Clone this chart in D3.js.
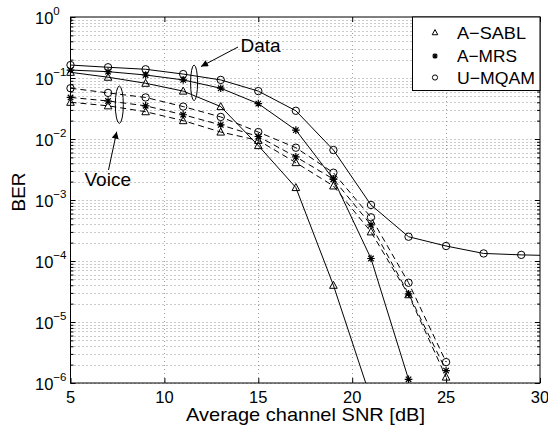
<!DOCTYPE html>
<html>
<head>
<meta charset="utf-8">
<script src="https://cdn.jsdelivr.net/npm/d3@7"></script>
<style>
  html, body { margin: 0; padding: 0; background: #fff; }
  svg { display: block; font-family: "Liberation Sans", Arial, Helvetica, sans-serif; }
</style>
</head>
<body>
<svg id="chart" width="548" height="432"></svg>
<script>
// ---------------- data ----------------
const seriesNames = ["A\u2212SABL", "A\u2212MRS", "U\u2212MQAM"];
const xTicks = [5, 10, 15, 20, 25, 30];
const yDecades = [-6, -5, -4, -3, -2, -1, 0];

const snrDataUMQAM = [5, 7, 9, 11, 13, 15, 17, 19, 21, 23, 25, 27, 29, 30];
const berDataUMQAM = [0.163, 0.150, 0.139, 0.116, 0.093, 0.061, 0.029, 0.0066, 8.3e-4, 2.5e-4, 1.76e-4, 1.33e-4, 1.26e-4, 1.24e-4];

const snrDataAMRS = [5, 7, 9, 11, 13, 15, 17, 19, 21, 23];
const berDataAMRS = [0.135, 0.127, 0.112, 0.093, 0.068, 0.038, 0.014, 0.0022, 1.1e-4, 1.15e-6];

const snrDataASABL = [5, 7, 9, 11, 13, 15, 17, 19, 21];
const berDataASABL = [0.124, 0.103, 0.082, 0.061, 0.034, 0.0078, 0.0016, 4.0e-5, 5.5e-7];

const snrVoice = [5, 7, 9, 11, 13, 15, 17, 19, 21, 23, 25];
const berVoiceUMQAM = [0.068, 0.057, 0.048, 0.034, 0.023, 0.013, 0.0072, 0.0028, 5.2e-4, 4.4e-5, 2.2e-6];
const berVoiceAMRS  = [0.048, 0.042, 0.035, 0.025, 0.017, 0.011, 0.0051, 0.0022, 3.9e-4, 2.9e-5, 1.6e-6];
const berVoiceASABL = [0.040, 0.035, 0.028, 0.020, 0.013, 0.0095, 0.0041, 0.0017, 3.0e-4, 2.8e-5, 1.25e-6];

// ---------------- layout ----------------
const L = 70.5, R = 540, T = 17, B = 383;
const svg = d3.select("#chart");
const x = d3.scaleLinear().domain([5, 30]).range([L, R]);
const y = d3.scaleLog().domain([1e-6, 1]).range([B, T]);

svg.append("defs").append("clipPath").attr("id", "clip")
  .append("rect").attr("x", L).attr("y", T).attr("width", R - L).attr("height", B - T);
const arrowDef = svg.select("defs").append("marker")
  .attr("id", "arrow").attr("viewBox", "0 0 10 10").attr("refX", 10).attr("refY", 5)
  .attr("markerWidth", 9).attr("markerHeight", 7).attr("markerUnits", "userSpaceOnUse")
  .attr("orient", "auto");
arrowDef.append("path").attr("d", "M0,0 L10,5 L0,10 z").attr("fill", "#000");

// grid
const minorVals = [];
for (let k = -6; k < 0; k++) for (let m = 1; m <= 9; m++) minorVals.push(m * Math.pow(10, k));
const grid = svg.append("g");
grid.selectAll("line.h").data(minorVals).join("line")
  .attr("x1", L).attr("x2", R)
  .attr("y1", d => Math.round(y(d)) + 0.5).attr("y2", d => Math.round(y(d)) + 0.5)
  .attr("stroke", "#777").attr("stroke-width", 0.8).attr("stroke-dasharray", "1,3");
grid.selectAll("line.v").data(xTicks.slice(1, -1)).join("line")
  .attr("x1", d => Math.round(x(d)) + 0.5).attr("x2", d => Math.round(x(d)) + 0.5)
  .attr("y1", T).attr("y2", B)
  .attr("stroke", "#888").attr("stroke-width", 0.8).attr("stroke-dasharray", "1,3");

// axes (ticks inside)
const ax = svg.append("g");
ax.append("g").attr("transform", `translate(0,${B})`)
  .call(d3.axisBottom(x).tickValues(xTicks).tickSize(-5).tickFormat(""))
  .call(g => g.select(".domain").remove());
ax.append("g").attr("transform", `translate(0,${T})`)
  .call(d3.axisTop(x).tickValues(xTicks).tickSize(-5).tickFormat(""))
  .call(g => g.select(".domain").remove());
const decVals = yDecades.map(e => Math.pow(10, e));
const minorOnly = minorVals.filter(v => Math.abs(Math.log10(v) % 1) > 1e-9);
ax.append("g").attr("transform", `translate(${L},0)`)
  .call(d3.axisLeft(y).tickValues(decVals).tickSize(-5).tickFormat(""))
  .call(g => g.select(".domain").remove());
ax.append("g").attr("transform", `translate(${R},0)`)
  .call(d3.axisRight(y).tickValues(decVals).tickSize(-5).tickFormat(""))
  .call(g => g.select(".domain").remove());
ax.append("g").attr("transform", `translate(${L},0)`)
  .call(d3.axisLeft(y).tickValues(minorOnly).tickSize(-3).tickFormat(""))
  .call(g => g.select(".domain").remove());
ax.append("g").attr("transform", `translate(${R},0)`)
  .call(d3.axisRight(y).tickValues(minorOnly).tickSize(-3).tickFormat(""))
  .call(g => g.select(".domain").remove());
ax.selectAll(".tick line").attr("stroke", "#000");

// x tick labels
svg.append("g").selectAll("text").data(xTicks).join("text")
  .attr("x", d => x(d)).attr("y", 402.5).attr("text-anchor", "middle")
  .attr("font-size", 16.5).text(d => d);

// y tick labels
const yl = svg.append("g").selectAll("text").data(yDecades).join("text")
  .attr("x", 35).attr("y", d => y(Math.pow(10, d)) + 7).attr("font-size", 16.5);
yl.append("tspan").text("10");
yl.append("tspan").attr("dy", -9.5).attr("font-size", 11.5)
  .text(d => d === 0 ? "0" : "\u2212" + Math.abs(d));

// axis titles
svg.append("text").attr("x", 186).attr("y", 421)
  .attr("font-size", 19).attr("textLength", 239).attr("lengthAdjust", "spacingAndGlyphs")
  .text("Average channel SNR [dB]");
svg.append("text").attr("transform", "translate(25,192) rotate(-90)").attr("text-anchor", "middle")
  .attr("font-size", 19).text("BER");

// markers
function markerPath(type, s) {
  if (type === 0) return `M0,${-s * 1.05} L${s},${s * 0.8} L${-s},${s * 0.8} Z`;
  if (type === 1) { const a = s * 0.72; return `M${-s},0 L${s},0 M0,${-s} L0,${s} M${-a},${-a} L${a},${a} M${-a},${a} L${a},${-a}`; }
  return null;
}
function drawMarker(g, type, cx, cy, s) {
  if (type === 2) {
    g.append("circle").attr("cx", cx).attr("cy", cy).attr("r", s).attr("fill", "none").attr("stroke", "#000").attr("stroke-width", 1);
  } else {
    g.append("path").attr("transform", `translate(${cx},${cy})`).attr("d", markerPath(type, s))
      .attr("fill", "none").attr("stroke", "#000").attr("stroke-width", type === 1 ? 1.2 : 1);
  }
}

const series = [
  { xs: snrVoice, ys: berVoiceASABL, type: 0, dash: "6,4" },
  { xs: snrVoice, ys: berVoiceAMRS, type: 1, dash: "6,4" },
  { xs: snrVoice, ys: berVoiceUMQAM, type: 2, dash: "6,4" },
  { xs: snrDataASABL, ys: berDataASABL, type: 0, dash: null },
  { xs: snrDataAMRS, ys: berDataAMRS, type: 1, dash: null },
  { xs: snrDataUMQAM, ys: berDataUMQAM, type: 2, dash: null }
];
const line = d3.line().x(d => x(d[0])).y(d => y(d[1]));
const plotG = svg.append("g");
series.forEach(s => {
  const pts = s.xs.map((v, i) => [v, s.ys[i]]);
  plotG.append("path").attr("d", line(pts)).attr("clip-path", "url(#clip)")
    .attr("fill", "none").attr("stroke", "#000").attr("stroke-width", 1)
    .attr("stroke-dasharray", s.dash);
  const mg = plotG.append("g");
  pts.filter(p => p[0] % 2 === 1 && p[1] >= 1e-6).forEach(p => {
    drawMarker(mg, s.type, x(p[0]), y(p[1]), s.type === 2 ? 3.7 : 3.8);
  });
});

// frame
svg.append("rect").attr("x", L).attr("y", T).attr("width", R - L).attr("height", B - T)
  .attr("fill", "none").attr("stroke", "#000").attr("stroke-width", 1);

// legend
const lg = svg.append("g");
lg.append("rect").attr("x", 412.5).attr("y", T).attr("width", R - 412.5).attr("height", 73.5)
  .attr("fill", "#fff").attr("stroke", "#000").attr("stroke-width", 1);
const legY = [32.5, 56, 77.5];
const legW = [69, 60, 78];
seriesNames.forEach((n, i) => {
  drawMarker(lg, i, 435, legY[i], i === 2 ? 2.6 : 2.8);
  lg.append("text").attr("x", 457).attr("y", legY[i] + 6).attr("font-size", 17)
    .attr("textLength", legW[i]).attr("lengthAdjust", "spacingAndGlyphs").text(n);
});

// annotations
const ann = svg.append("g");
ann.append("ellipse").attr("cx", x(11.58)).attr("cy", (y(0.163) + y(0.0425)) / 2)
  .attr("rx", 3.5).attr("ry", (y(0.0425) - y(0.163)) / 2)
  .attr("fill", "none").attr("stroke", "#000").attr("stroke-width", 1);
ann.append("ellipse").attr("cx", x(7.6)).attr("cy", (y(0.074) + y(0.018)) / 2)
  .attr("rx", 4).attr("ry", (y(0.018) - y(0.074)) / 2)
  .attr("fill", "none").attr("stroke", "#000").attr("stroke-width", 1);
ann.append("line").attr("x1", 238).attr("y1", 47).attr("x2", 201).attr("y2", 66.5)
  .attr("stroke", "#000").attr("stroke-width", 1).attr("marker-end", "url(#arrow)");
ann.append("line").attr("x1", 108.5).attr("y1", 170).attr("x2", 116.7).attr("y2", 131.7)
  .attr("stroke", "#000").attr("stroke-width", 1).attr("marker-end", "url(#arrow)");
ann.append("text").attr("x", 240.5).attr("y", 51.7).attr("font-size", 19).text("Data");
ann.append("text").attr("x", 84.5).attr("y", 186).attr("font-size", 19).text("Voice");
</script>
</body>
</html>
